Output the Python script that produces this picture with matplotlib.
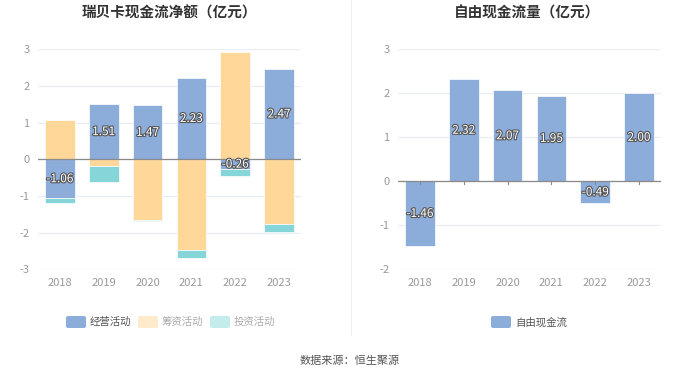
import matplotlib
matplotlib.use("Agg")
import matplotlib.pyplot as plt
import matplotlib.patheffects as pe
from matplotlib.patches import FancyBboxPatch
from matplotlib.lines import Line2D
import numpy as np

plt.rcParams['font.family'] = ['Noto Sans CJK SC', 'DejaVu Sans']

years = ['2018', '2019', '2020', '2021', '2022', '2023']
operating = [-1.06, 1.51, 1.47, 2.23, -0.26, 2.47]
financing = [1.07, -0.18, -1.66, -2.47, 2.92, -1.76]
investing = [-0.12, -0.43, -0.03, -0.22, -0.19, -0.22]
free_cf = [-1.46, 2.32, 2.07, 1.95, -0.49, 2.00]

left_title = '瑞贝卡现金流净额（亿元）'
right_title = '自由现金流量（亿元）'
legend_left = ['经营活动', '筹资活动', '投资活动']
legend_right = ['自由现金流']
source = '数据来源：恒生聚源'

c_op = '#8CACDA'
c_fin = '#FFD899'
c_inv = '#86D5D8'
c_fin_l = '#FFEBCC'
c_inv_l = '#C3ECEC'

W, H = 700, 377
fig = plt.figure(figsize=(7, 3.77), dpi=100)
fig.patch.set_facecolor('white')

def px_axes(x0, y_top, x1, y_bot):
    return fig.add_axes([x0 / W, 1 - y_bot / H, (x1 - x0) / W, (y_bot - y_top) / H])

def style(ax, ylim, ticks):
    ax.set_xlim(-0.5, 5.5)
    ax.set_ylim(*ylim)
    ax.set_yticks(ticks)
    ax.set_yticklabels([str(t) for t in ticks])
    for s in ax.spines.values():
        s.set_visible(False)
    ax.grid(axis='y', color='#E9EDF5', linewidth=0.9)
    ax.set_axisbelow(True)
    ax.tick_params(axis='both', length=0, colors='#999999', labelsize=8)
    ax.tick_params(axis='y', pad=6)
    ax.tick_params(axis='x', pad=6)
    ax.set_xticks(range(len(years)))
    ax.set_xticklabels(years)
    ax.axhline(0, color='#8A8A8A', linewidth=0.9, zorder=4)

label_effect = [pe.withStroke(linewidth=1.6, foreground='#555555')]

# Left chart
ax1 = px_axes(38, 49.3, 301, 269.3)
style(ax1, (-3, 3), [-3, -2, -1, 0, 1, 2, 3])
x = np.arange(len(years))
bw = 0.68
pos_base = np.zeros(len(years))
neg_base = np.zeros(len(years))
for vals, col in [(operating, c_op), (financing, c_fin), (investing, c_inv)]:
    v = np.array(vals)
    base = np.where(v >= 0, pos_base, neg_base)
    ax1.bar(x, v, bw, bottom=base, color=col, edgecolor='white', linewidth=0.5, zorder=3)
    pos_base = pos_base + np.where(v >= 0, v, 0)
    neg_base = neg_base + np.where(v < 0, v, 0)
for i, v in enumerate(operating):
    ax1.text(i, v / 2, f'{v:.2f}', ha='center', va='center', color='white',
             fontsize=8.5, zorder=6, path_effects=label_effect)

# Right chart
ax2 = px_axes(398, 49.3, 661, 269.3)
style(ax2, (-2, 3), [-2, -1, 0, 1, 2, 3])
ax2.bar(x, free_cf, bw, color=c_op, edgecolor='white', linewidth=0.5, zorder=3)
for i, v in enumerate(free_cf):
    ax2.text(i, v / 2, f'{v:.2f}', ha='center', va='center', color='white',
             fontsize=8.5, zorder=6, path_effects=label_effect)
for i in x:
    ax2.plot([i, i], [0, -0.06], color='#8A8A8A', linewidth=0.8, zorder=4, clip_on=False)

# Titles
fig.text(169 / W, 1 - 13 / H, left_title, ha='center', va='center', fontsize=10.5,
         fontweight='bold', color='#333333')
fig.text(527 / W, 1 - 13 / H, right_title, ha='center', va='center', fontsize=10.5,
         fontweight='bold', color='#333333')

# Divider
fig.add_artist(Line2D([351 / W, 351 / W], [1 - 0 / H, 1 - 335 / H], color='#EEEEEE', linewidth=0.8))

# Legends
def legend_item(x0, label, col, tcol):
    y = 322
    fig.add_artist(FancyBboxPatch((x0 / W, 1 - (y + 6) / H), 20 / W, 12 / H,
                                  boxstyle='round,pad=0,rounding_size=0.004',
                                  transform=fig.transFigure, facecolor=col, edgecolor='none'))
    fig.text((x0 + 24) / W, 1 - y / H, label, ha='left', va='center', fontsize=7.5, color=tcol)

legend_item(66, legend_left[0], c_op, '#555555')
legend_item(138, legend_left[1], c_fin_l, '#AAAAAA')
legend_item(210, legend_left[2], c_inv_l, '#AAAAAA')
legend_item(491, legend_right[0], c_op, '#555555')

fig.text(350 / W, 1 - 361 / H, source, ha='center', va='center', fontsize=8, color='#555555')

fig.savefig('out.png', dpi=100, facecolor='white')
